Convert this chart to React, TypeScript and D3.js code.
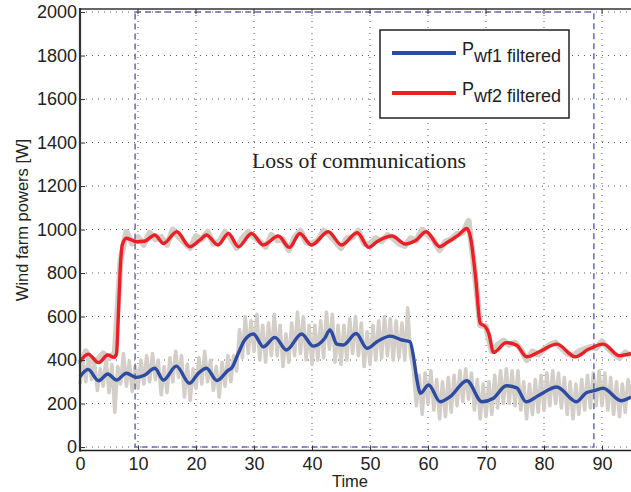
import { useEffect, useRef } from "react";
import * as d3 from "d3";

// ticks
const xTicks = [0, 10, 20, 30, 40, 50, 60, 70, 80, 90];
const yTicks = [0, 200, 400, 600, 800, 1000, 1200, 1400, 1600, 1800, 2000];

// communication loss window (time start/end, power bottom/top)
const lossWindow = { t0: 9.5, t1: 88.6, p0: 0, p1: 2000 };
const lossLabel = "Loss of communications";

// filtered powers, read as [time, W]
const pwf1Filtered: [number, number][] = [
  [0, 323], [1.4, 357], [3.2, 305], [4.8, 336], [6.3, 308], [8.0, 339], [9.7, 320],
  [11.1, 330], [12.9, 362], [14.4, 308], [16.6, 372], [18.9, 293], [20.3, 336],
  [21.8, 362], [23.6, 306], [25.6, 354], [26.1, 362], [27.3, 431], [28.4, 492],
  [29.9, 520], [31.6, 461], [33.6, 504], [35.6, 446], [38.2, 520], [40.2, 464],
  [42.2, 500], [43.1, 538], [44.3, 473], [45.4, 469], [47.6, 522], [49.5, 454],
  [51.2, 484], [53.5, 510], [55.5, 492], [56.9, 484], [57.5, 415], [58.1, 308],
  [58.7, 247], [60.1, 285], [62.1, 208], [63.8, 231], [66.7, 305], [69.3, 208],
  [71.2, 223], [73.5, 282], [75.3, 272], [76.9, 208], [79.2, 239], [82.2, 276],
  [85.6, 208], [87.3, 250], [88.5, 258], [90.2, 270], [93.3, 213], [95, 230],
];

const pwf2Filtered: [number, number][] = [
  [0, 392], [1.4, 427], [3.2, 388], [4.8, 423], [5.9, 412], [6.3, 430], [6.6, 600],
  [6.9, 800], [7.3, 930], [8.0, 960], [9.8, 944], [11.1, 946], [12.9, 975],
  [14.4, 936], [16.7, 990], [18.9, 921], [20.7, 952], [21.8, 975], [23.8, 929],
  [25.6, 982], [27.3, 921], [29.6, 982], [31.6, 929], [34.2, 970], [36.1, 918],
  [37.9, 982], [39.9, 929], [42.8, 990], [45.1, 929], [47.8, 985], [49.8, 918],
  [51.2, 944], [53.8, 970], [56.1, 933], [57.8, 948], [59.7, 990], [62.0, 921],
  [63.3, 940], [65.3, 975], [66.7, 1005], [67.3, 967], [68.2, 783], [69.0, 569],
  [69.9, 553], [70.5, 520], [71.3, 435], [73.5, 480], [75.3, 468], [77.0, 415],
  [79.2, 438], [82.2, 473], [85.4, 415], [87.6, 448], [90.2, 473], [93.0, 420],
  [95, 430],
];

// raw (unfiltered) powers, sampled every 0.5 s for wf1 and every 1 s for wf2
const pwf1RawStep = 0.5;
const pwf1Raw = [
  290, 400, 300, 420, 310, 390, 260, 360, 280, 410,
  250, 380, 160, 370, 290, 430, 280, 395, 255, 370,
  270, 400, 290, 420, 300, 430, 310, 400, 240, 370,
  250, 410, 300, 440, 320, 420, 230, 380, 215, 360,
  270, 410, 290, 440, 300, 400, 260, 370, 230, 390,
  280, 420, 300, 420, 350, 540, 410, 600, 430, 580,
  440, 610, 400, 560, 390, 570, 420, 610, 420, 560,
  370, 520, 390, 570, 420, 620, 430, 600, 400, 560,
  380, 560, 400, 580, 410, 620, 450, 610, 390, 560,
  380, 560, 400, 590, 430, 600, 420, 570, 370, 530,
  380, 560, 400, 580, 410, 600, 420, 590, 400, 580,
  410, 570, 400, 640, 420, 350, 190, 330, 150, 340,
  200, 350, 170, 310, 130, 300, 140, 320, 160, 330,
  190, 350, 210, 360, 220, 340, 170, 310, 130, 290,
  140, 300, 150, 330, 180, 350, 200, 360, 200, 350,
  190, 350, 170, 300, 130, 290, 150, 310, 160, 330,
  170, 340, 190, 350, 200, 340, 180, 320, 150, 300,
  130, 290, 150, 310, 170, 330, 180, 340, 190, 350,
  190, 340, 170, 320, 150, 300, 140, 290, 160, 310,
  230,
];

const pwf2RawStep = 1;
const pwf2Raw = [
  380, 440, 395, 400, 430, 410, 430, 860, 990, 935,
  965, 930, 985, 955, 965, 930, 1000, 965, 940, 915,
  970, 955, 990, 935, 945, 990, 960, 915, 960, 990,
  965, 945, 920, 975, 950, 955, 905, 965, 995, 940,
  935, 950, 995, 975, 945, 915, 960, 965, 995, 935,
  935, 960, 945, 975, 960, 935, 925, 960, 950, 1000,
  975, 950, 905, 945, 955, 980, 985, 1040, 820, 560,
  555, 440, 470, 490, 470, 480, 450, 400, 440, 425,
  450, 470, 480, 455, 430, 420, 440, 450, 460, 455,
  485, 455, 430, 410, 435, 420,
];

const legendItems = [
  { sub: "wf1 filtered", color: "#2d4ba3", data: pwf1Filtered },
  { sub: "wf2 filtered", color: "#ec1f27", data: pwf2Filtered },
];

export default function App() {
  const ref = useRef<SVGSVGElement | null>(null);

  useEffect(() => {
    const W = 631;
    const H = 492;
    const left = 80;
    const right = 631;
    const top = 9;
    const bottom = 450.5;
    const font = "'Liberation Sans', Arial, Helvetica, sans-serif";

    const svg = d3.select(ref.current);
    svg.selectAll("*").remove();
    svg.attr("width", W).attr("height", H);

    const x = d3.scaleLinear().domain([0, 95]).range([left, right]);
    const y = d3.scaleLinear().domain([-16, 2014]).range([bottom, top]);

    // grid
    const grid = svg.append("g").attr("stroke", "#555").attr("stroke-width", 1)
      .attr("stroke-dasharray", "1,5");
    grid.selectAll("line.gx").data(xTicks.filter((t) => t > 0)).enter().append("line")
      .attr("x1", (d) => x(d)).attr("x2", (d) => x(d))
      .attr("y1", top).attr("y2", bottom);
    grid.selectAll("line.gy").data(yTicks).enter().append("line")
      .attr("x1", left).attr("x2", right)
      .attr("y1", (d) => y(d)).attr("y2", (d) => y(d));

    // raw signals
    const rawLine = (step: number) =>
      d3.line<number>().x((_, i) => x(i * step)).y((d) => y(d));
    svg.append("path").datum(pwf1Raw)
      .attr("d", rawLine(pwf1RawStep)).attr("fill", "none")
      .attr("stroke", "#d3cec7").attr("stroke-width", 3.6).attr("stroke-linejoin", "round");
    svg.append("path").datum(pwf2Raw)
      .attr("d", rawLine(pwf2RawStep)).attr("fill", "none")
      .attr("stroke", "#d3cec7").attr("stroke-width", 6).attr("stroke-linejoin", "round");

    // loss of communications window
    svg.append("rect")
      .attr("x", x(lossWindow.t0)).attr("y", y(lossWindow.p1))
      .attr("width", x(lossWindow.t1) - x(lossWindow.t0))
      .attr("height", y(lossWindow.p0) - y(lossWindow.p1))
      .attr("fill", "none").attr("stroke", "#6868b6").attr("stroke-width", 1.5)
      .attr("stroke-dasharray", "6,4");

    // filtered signals
    const line = d3.line<[number, number]>()
      .x((d) => x(d[0])).y((d) => y(d[1])).curve(d3.curveMonotoneX);
    legendItems.forEach((s) => {
      svg.append("path").datum(s.data).attr("d", line).attr("fill", "none")
        .attr("stroke", s.color).attr("stroke-width", 3.4).attr("stroke-linejoin", "round");
    });

    // axes
    const yAxis = svg.append("g").attr("transform", `translate(${left},0)`)
      .call(d3.axisLeft(y).tickValues(yTicks).tickFormat(d3.format("d"))
        .tickSizeInner(-5).tickSizeOuter(0).tickPadding(3));
    yAxis.select(".domain").remove();
    yAxis.selectAll("text").attr("font-size", 18).attr("font-family", font).attr("fill", "#222");
    yAxis.selectAll("line").attr("stroke", "#333");

    const xAxis = svg.append("g").attr("transform", `translate(0,${bottom})`)
      .call(d3.axisBottom(x).tickValues(xTicks).tickFormat(d3.format("d"))
        .tickSizeInner(-5).tickSizeOuter(0).tickPadding(6.5));
    xAxis.select(".domain").remove();
    xAxis.selectAll("text").attr("font-size", 18).attr("font-family", font).attr("fill", "#222");
    xAxis.selectAll("line").attr("stroke", "#333");

    // mirrored ticks on top
    svg.append("g").selectAll("line").data(xTicks).enter().append("line")
      .attr("x1", (d) => x(d)).attr("x2", (d) => x(d))
      .attr("y1", top).attr("y2", top + 5).attr("stroke", "#333");

    // frame
    svg.append("line").attr("x1", left).attr("x2", left).attr("y1", top - 1).attr("y2", bottom + 1)
      .attr("stroke", "#333").attr("stroke-width", 2.2);
    svg.append("line").attr("x1", left).attr("x2", right).attr("y1", bottom).attr("y2", bottom)
      .attr("stroke", "#222").attr("stroke-width", 1.5);
    svg.append("line").attr("x1", left).attr("x2", right).attr("y1", top).attr("y2", top)
      .attr("stroke", "#333").attr("stroke-width", 1.5);

    // annotation
    svg.append("text").attr("x", 252).attr("y", 168)
      .attr("font-family", "'Liberation Serif', 'Times New Roman', serif")
      .attr("font-size", 21).attr("textLength", 214).attr("lengthAdjust", "spacingAndGlyphs")
      .attr("fill", "#222").text(lossLabel);

    // axis titles
    svg.append("text").attr("transform", "translate(28,220) rotate(-90)")
      .attr("text-anchor", "middle").attr("font-family", font).attr("font-size", 16.5)
      .attr("fill", "#222").text("Wind farm powers [W]");
    svg.append("text").attr("x", 350).attr("y", 487)
      .attr("text-anchor", "middle").attr("font-family", font).attr("font-size", 16.5)
      .attr("fill", "#222").text("Time");

    // legend
    const lg = svg.append("g");
    lg.append("rect").attr("x", 380).attr("y", 30).attr("width", 189).attr("height", 88)
      .attr("fill", "#fff").attr("stroke", "#222").attr("stroke-width", 1.5);
    legendItems.forEach((s, i) => {
      const ly = 53 + i * 40;
      lg.append("line").attr("x1", 392).attr("x2", 456).attr("y1", ly).attr("y2", ly)
        .attr("stroke", s.color).attr("stroke-width", 4);
      const t = lg.append("text").attr("x", 462).attr("y", ly + 2)
        .attr("font-family", font).attr("font-size", 18).attr("fill", "#222");
      t.append("tspan").text("P");
      t.append("tspan").attr("dy", 7).text(s.sub);
    });
  }, []);

  return (
    <svg ref={ref} style={{ position: "absolute", left: 0, top: 0, background: "#fff" }} />
  );
}
